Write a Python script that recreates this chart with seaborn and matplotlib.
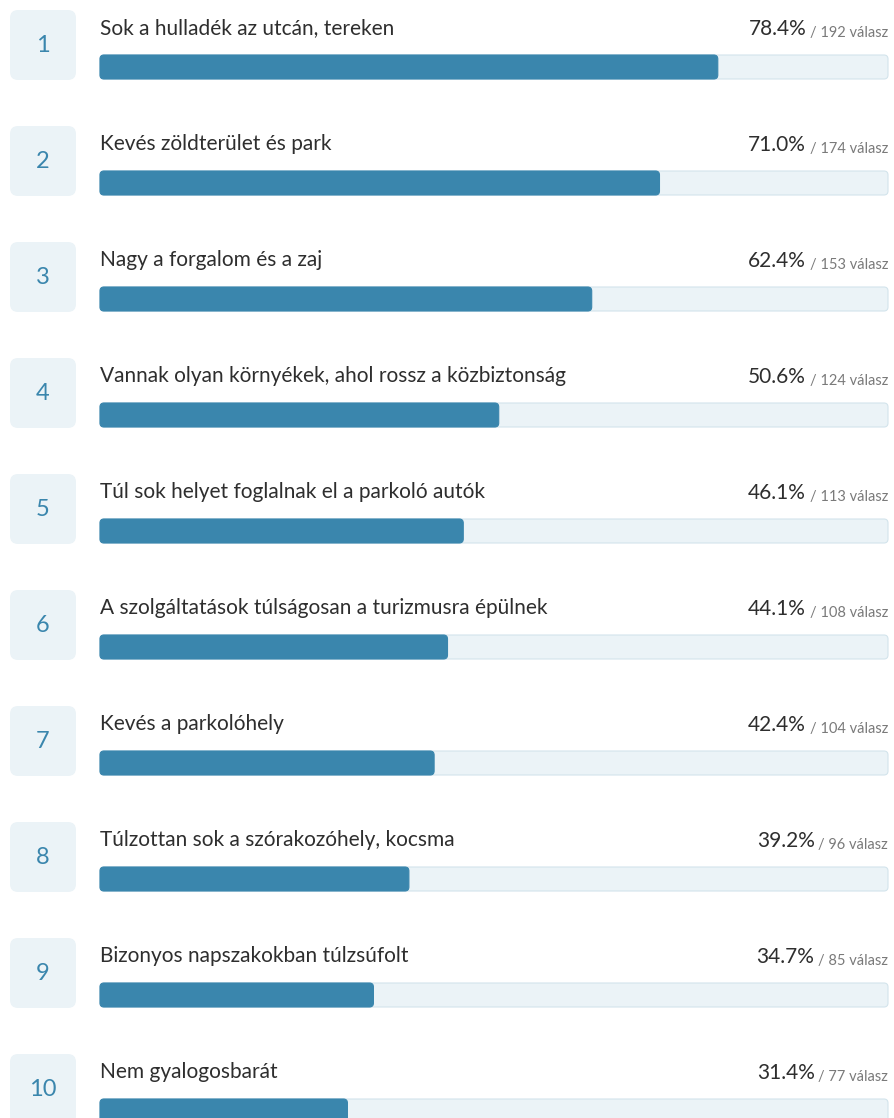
import matplotlib
matplotlib.use("Agg")
import matplotlib.pyplot as plt
from matplotlib.patches import FancyBboxPatch
import seaborn as sns
import pandas as pd

ranks = ["1", "2", "3", "4", "5", "6", "7", "8", "9", "10"]
labels = [
    "Sok a hulladék az utcán, tereken",
    "Kevés zöldterület és park",
    "Nagy a forgalom és a zaj",
    "Vannak olyan környékek, ahol rossz a közbiztonság",
    "Túl sok helyet foglalnak el a parkoló autók",
    "A szolgáltatások túlságosan a turizmusra épülnek",
    "Kevés a parkolóhely",
    "Túlzottan sok a szórakozóhely, kocsma",
    "Bizonyos napszakokban túlzsúfolt",
    "Nem gyalogosbarát",
]
percents = [78.4, 71.0, 62.4, 50.6, 46.1, 44.1, 42.4, 39.2, 34.7, 31.4]
counts = [192, 174, 153, 124, 113, 108, 104, 96, 85, 77]

BLUE = "#3a86ad"
LIGHT = "#ebf3f7"
EDGE = "#d3e4ec"
DARK = "#2e2e2e"
GREY = "#7a7a7a"

df = pd.DataFrame({"rank": ranks, "label": labels, "pct": percents,
                   "count": counts, "full": [100] * len(ranks)})

sns.set_theme(style="white")
plt.rcParams["font.family"] = ["Lato", "DejaVu Sans"]

W, H = 894, 1118
fig = plt.figure(figsize=(W / 100, H / 100), dpi=100)
ax = fig.add_axes([0, 0, 1, 1])

px_x = 7.88    # pixels per percent
px_y = 116.0   # pixels per row
bar_h = 24 / px_y

# track and filled bars
sns.barplot(data=df, x="full", y="rank", order=ranks, color=LIGHT,
            width=bar_h, ax=ax, saturation=1)
n_track = len(ax.patches)
sns.barplot(data=df, x="pct", y="rank", order=ranks, color=BLUE,
            width=bar_h, ax=ax, saturation=1)

aspect = px_x / px_y
for i, p in enumerate(list(ax.patches)):
    x, y, w, h = p.get_x(), p.get_y(), p.get_width(), p.get_height()
    track = i < n_track
    p.remove()
    ax.add_patch(FancyBboxPatch(
        (x, y), w, h,
        boxstyle=f"round,pad=0,rounding_size={4 / px_x}",
        mutation_aspect=aspect,
        facecolor=LIGHT if track else BLUE,
        edgecolor=EDGE if track else BLUE,
        linewidth=0.8, zorder=2 if track else 3))

ax.set_xlim(-100 / px_x, (W - 100) / px_x)
ax.set_ylim((H - 67) / px_y, -67 / px_y)
ax.axis("off")

for i, row in df.iterrows():
    # rank box
    bx0, bx1 = (10 - 100) / px_x, (76 - 100) / px_x
    by0 = i - 57 / px_y
    ax.add_patch(FancyBboxPatch(
        (bx0, by0), bx1 - bx0, 70 / px_y,
        boxstyle=f"round,pad=0,rounding_size={8 / px_x}",
        mutation_aspect=aspect, facecolor=LIGHT, edgecolor="none", zorder=1))
    ax.text((bx0 + bx1) / 2, i - 21 / px_y, row["rank"], ha="center",
            va="center", fontsize=17, color=BLUE)

    # label
    ax.text(0, i - 39 / px_y, row["label"], ha="left", va="center",
            fontsize=15, color=DARK)

    # percent + count
    t = ax.text(100, i - 30 / px_y, f"/ {row['count']} válasz", ha="right",
                va="baseline", fontsize=10.5, color=GREY)
    ax.annotate(f"{row['pct']:.1f}%", xy=(0, 0), xycoords=t,
                xytext=(-2.5, 0.6), textcoords="offset points",
                ha="right", va="bottom", fontsize=15, color=DARK)

fig.savefig("out.png", dpi=100)
